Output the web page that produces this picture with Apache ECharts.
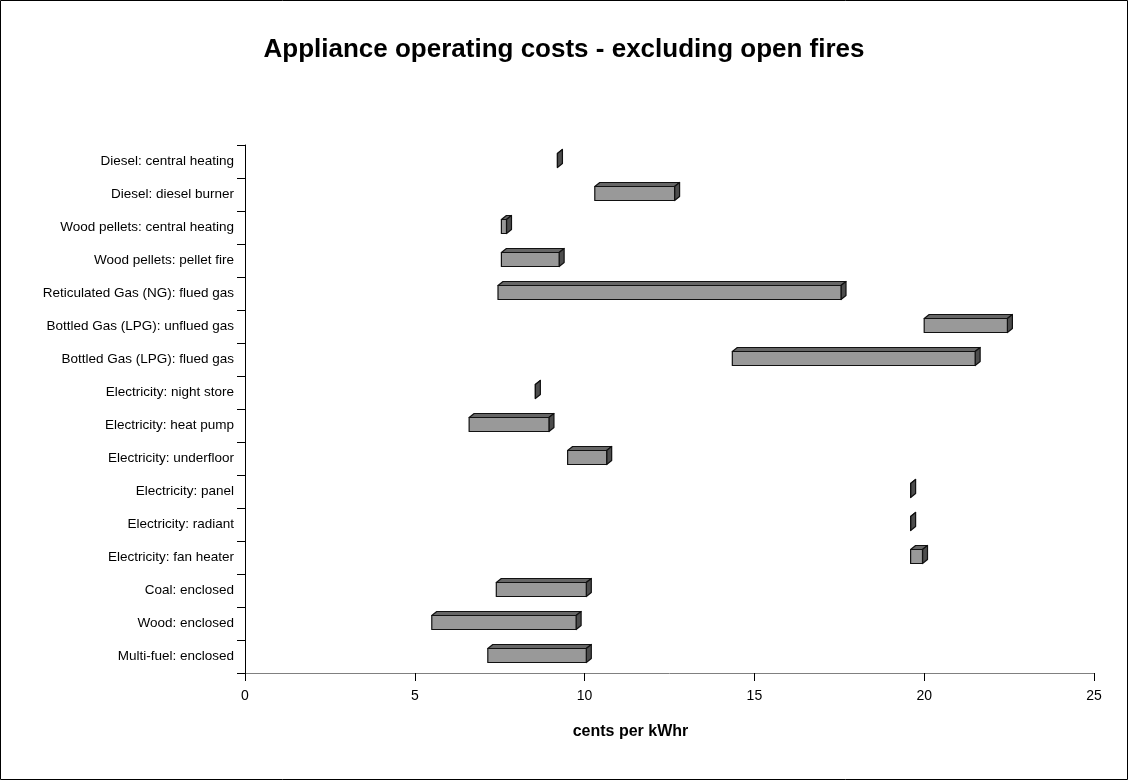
<!DOCTYPE html>
<html>
<head>
<meta charset="utf-8">
<title>Appliance operating costs</title>
<script src="https://cdn.jsdelivr.net/npm/echarts@6/dist/echarts.min.js"></script>
<style>
  html, body { margin: 0; padding: 0; background: #fff; }
  #chart { width: 1128px; height: 780px; }
</style>
</head>
<body>
<div id="chart"></div>
<script>
// Appliance types, listed top to bottom
var appliances = [
  'Diesel: central heating',
  'Diesel: diesel burner',
  'Wood pellets: central heating',
  'Wood pellets: pellet fire',
  'Reticulated Gas (NG): flued gas',
  'Bottled Gas (LPG): unflued gas',
  'Bottled Gas (LPG): flued gas',
  'Electricity: night store',
  'Electricity: heat pump',
  'Electricity: underfloor',
  'Electricity: panel',
  'Electricity: radiant',
  'Electricity: fan heater',
  'Coal: enclosed',
  'Wood: enclosed',
  'Multi-fuel: enclosed'
];

// Lowest and highest operating cost, cents per kWhr
var costLow  = [9.2, 10.3, 7.55, 7.55, 7.45, 20.0, 14.35, 8.55, 6.6, 9.5, 19.6, 19.6, 19.6, 7.4, 5.5, 7.15];
var costHigh = [9.2, 12.65, 7.7, 9.25, 17.55, 22.45, 21.5, 8.55, 8.95, 10.65, 19.6, 19.6, 19.95, 10.05, 9.75, 10.05];

var xTicks = { min: 0, max: 25, interval: 5 };

var rows = appliances.map(function (name, i) {
  return [costLow[i], costHigh[i], i];
});

// Floating box with a simple oblique depth (top and right side faces)
function renderBox(params, api) {
  var start = api.coord([api.value(0), api.value(2)]);
  var end = api.coord([api.value(1), api.value(2)]);
  var h = 14;
  var dx = 5, dy = 4;
  var x0 = start[0], x1 = end[0];
  var yTop = start[1] - h / 2 - 1;
  var yBot = yTop + h;
  var stroke = { stroke: '#111', lineWidth: 1.2, lineJoin: 'round' };
  return {
    type: 'group',
    children: [
      {
        type: 'polygon',
        shape: { points: [[x0, yTop], [x0 + dx, yTop - dy], [x1 + dx, yTop - dy], [x1, yTop]] },
        style: Object.assign({ fill: '#666666' }, stroke)
      },
      {
        type: 'polygon',
        shape: { points: [[x1, yTop], [x1 + dx, yTop - dy], [x1 + dx, yBot - dy], [x1, yBot]] },
        style: Object.assign({ fill: '#4d4d4d' }, stroke)
      },
      {
        type: 'rect',
        shape: { x: x0, y: yTop, width: Math.max(x1 - x0, 0), height: h },
        style: Object.assign({ fill: '#999999' }, stroke)
      }
    ]
  };
}

var chart = echarts.init(document.getElementById('chart'), null, { renderer: 'canvas' });

chart.setOption({
  animation: false,
  backgroundColor: '#ffffff',
  textStyle: { fontFamily: 'Liberation Sans, Arial, sans-serif' },
  title: {
    text: 'Appliance operating costs - excluding open fires',
    left: 'center',
    top: 32,
    textStyle: { fontSize: 26, fontWeight: 'bold', color: '#000', fontFamily: 'Liberation Sans, Arial, sans-serif' }
  },
  graphic: [{
    type: 'rect',
    shape: { x: 0.5, y: 0.5, width: 1127, height: 779 },
    style: { fill: 'none', stroke: '#000', lineWidth: 1 },
    silent: true
  }],
  grid: { left: 245, right: 34, top: 145, bottom: 107 },
  xAxis: {
    type: 'value',
    min: xTicks.min,
    max: xTicks.max,
    interval: xTicks.interval,
    name: 'cents per kWhr',
    nameLocation: 'middle',
    nameGap: 51,
    nameTextStyle: { fontSize: 16, fontWeight: 'bold', color: '#000', padding: [0, 78, 0, 0] },
    axisLine: { show: true, lineStyle: { color: '#808080', width: 1 } },
    axisTick: { show: true, length: 8, lineStyle: { color: '#000' } },
    axisLabel: { fontSize: 14, color: '#000', margin: 16 },
    splitLine: { show: false }
  },
  yAxis: {
    type: 'category',
    data: appliances,
    inverse: true,
    axisLine: { show: true, lineStyle: { color: '#000', width: 1 } },
    axisTick: { show: true, length: 8, lineStyle: { color: '#000' } },
    axisLabel: { fontSize: 13.5, color: '#000', margin: 11 },
    splitLine: { show: false }
  },
  series: [{
    type: 'custom',
    renderItem: renderBox,
    encode: { x: [0, 1], y: 2 },
    data: rows,
    clip: false
  }]
});
</script>
</body>
</html>
